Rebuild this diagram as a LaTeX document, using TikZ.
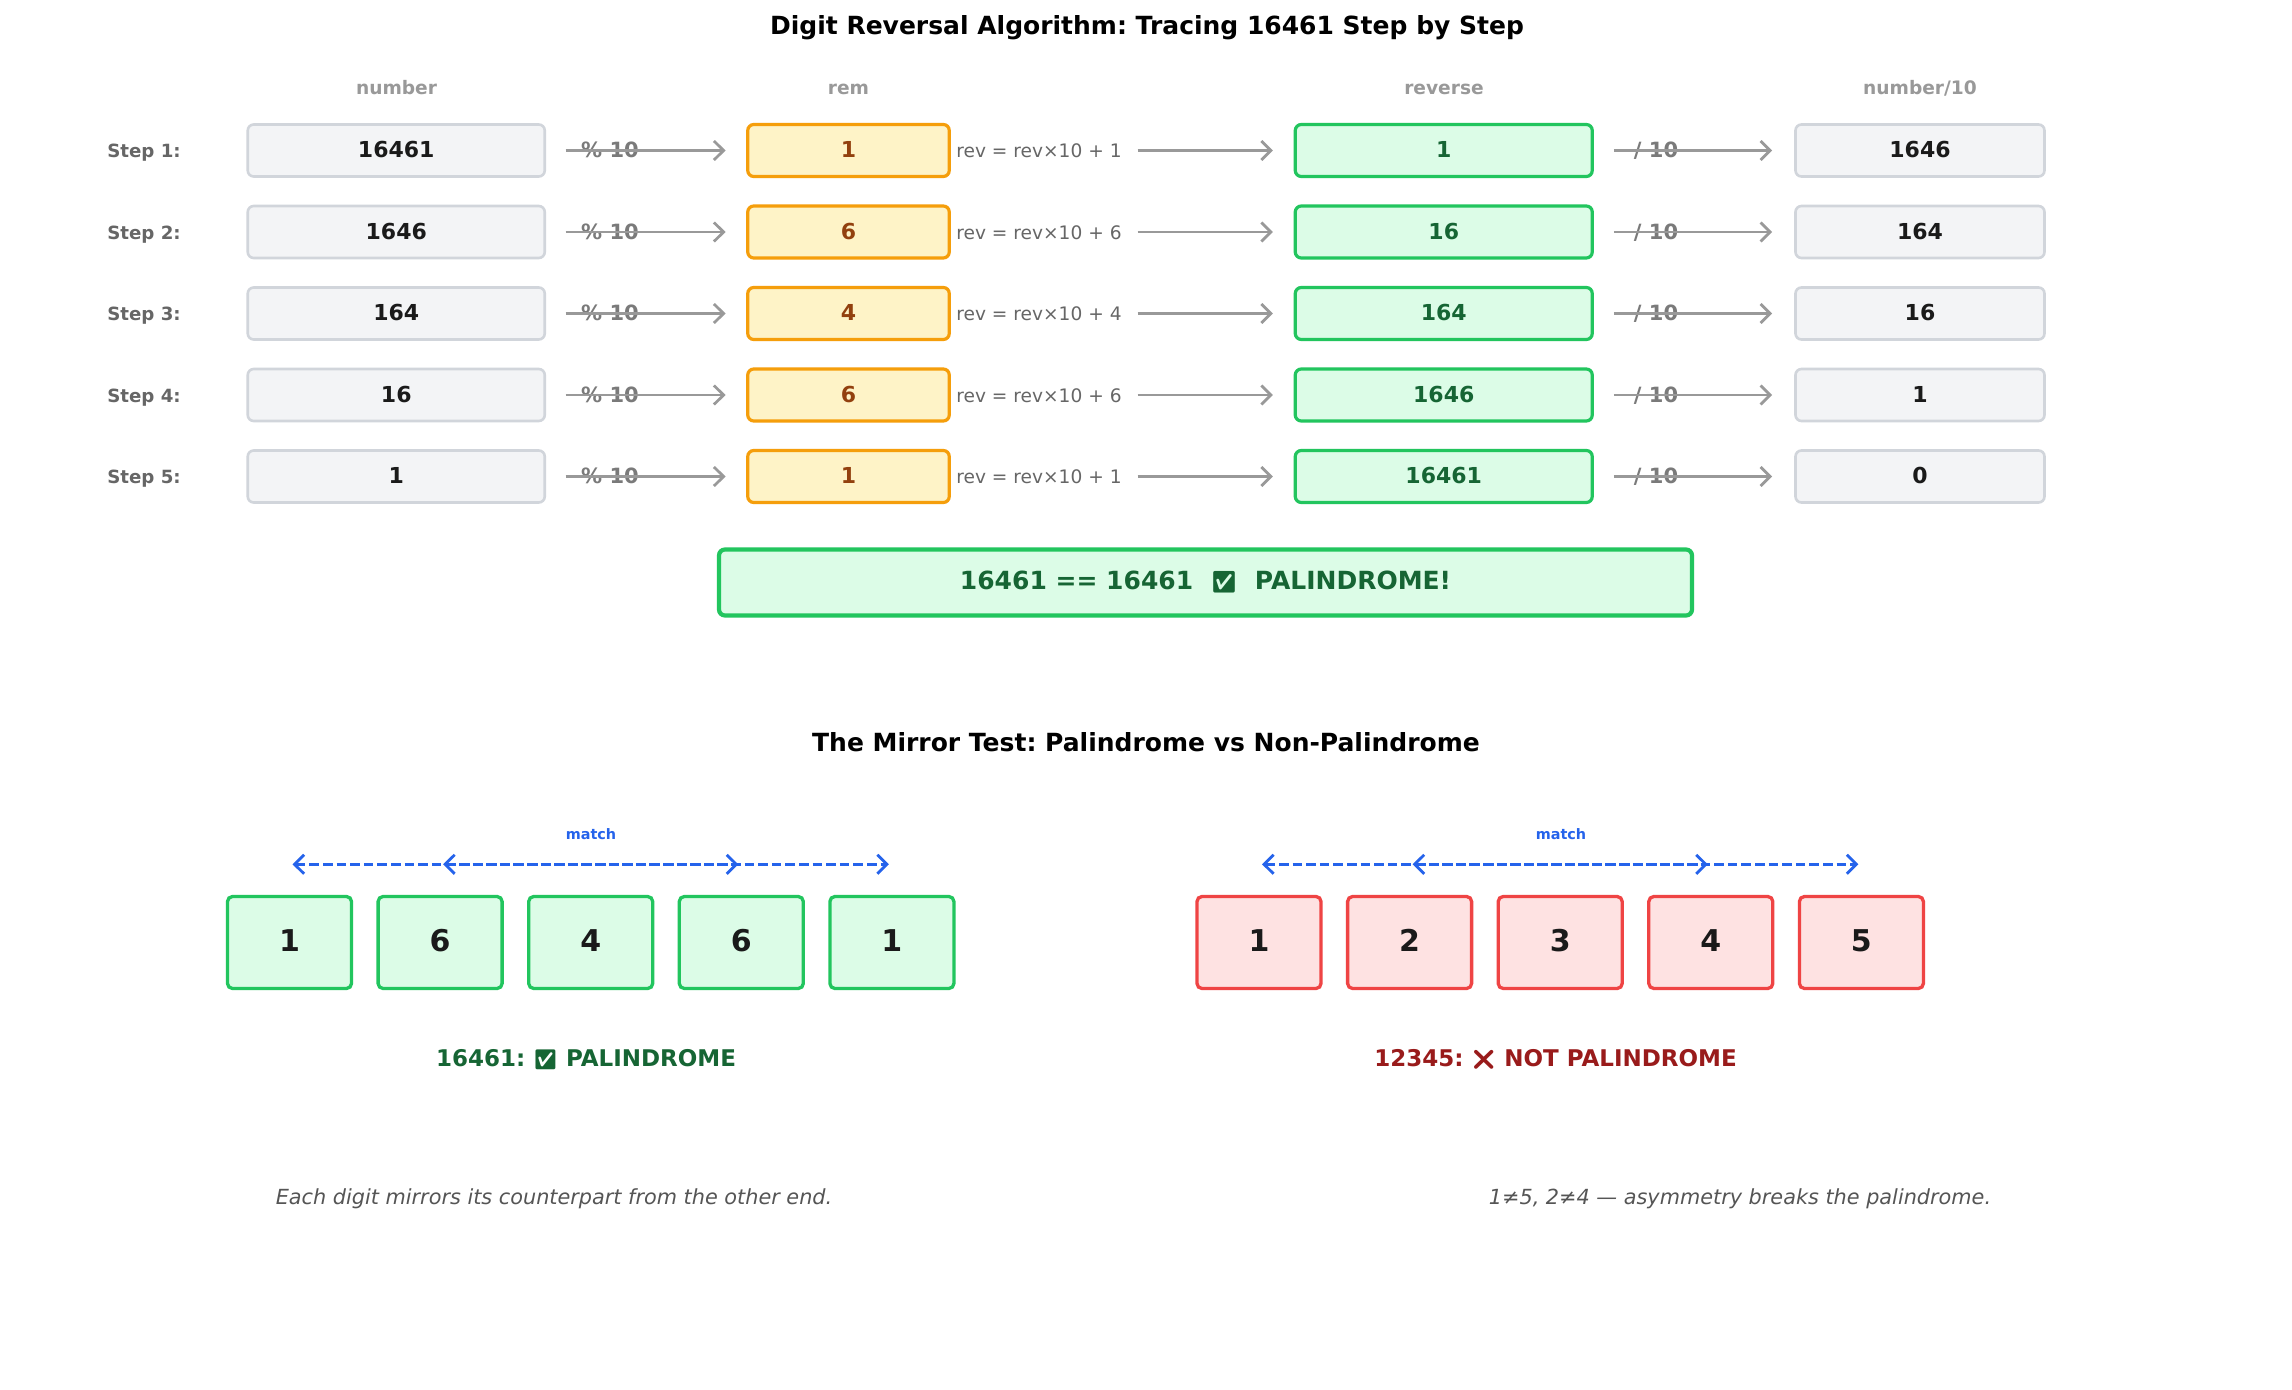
\documentclass[tikz,border=0pt]{standalone}
\usepackage{fontspec}
\setmainfont{DejaVu Sans}
\newfontfamily\emo[Scale=0.85]{Noto Emoji}
\usetikzlibrary{arrows.meta}
\definecolor{gfill}{HTML}{F3F4F6}
\definecolor{gline}{HTML}{D1D5DB}
\definecolor{dark}{HTML}{1A1A1A}
\definecolor{yfill}{HTML}{FEF3C7}
\definecolor{yline}{HTML}{F59E0B}
\definecolor{ytext}{HTML}{92400E}
\definecolor{grfill}{HTML}{DCFCE7}
\definecolor{grline}{HTML}{22C55E}
\definecolor{grtext}{HTML}{166534}
\definecolor{rfill}{HTML}{FEE2E2}
\definecolor{rline}{HTML}{EF4444}
\definecolor{rtext}{HTML}{991B1B}
\definecolor{mblue}{HTML}{2563EB}
\definecolor{agray}{HTML}{999999}
\definecolor{lgray}{HTML}{7A7A7A}
\definecolor{hgray}{HTML}{999999}
\definecolor{sgray}{HTML}{666666}
\definecolor{fgray}{HTML}{555555}
\newcommand\setfs[1]{\fontsize{#1}{#1}\selectfont}
\frenchspacing
\begin{document}
\begin{tikzpicture}[x=0.5pt,y=-0.5pt,
  t/.style={inner sep=0pt, outer sep=0pt, text height=0.73em, text depth=0pt, anchor=center},
  hdr/.style={t, font=\bfseries\setfs{9.3}, text=hgray},
  steplbl/.style={t, font=\bfseries\setfs{9.1}, text=sgray},
  oplbl/.style={t, font=\bfseries\setfs{10.5}, text=lgray},
  formula/.style={t, font=\setfs{9.3}, text=sgray},
  box/.style={draw, rounded corners=3pt, inner sep=0pt, text height=0.73em, text depth=0pt,
    minimum height=26pt, font=\bfseries\setfs{11}},
  numbox/.style={box, fill=gfill, draw=gline, line width=1.3pt, text=dark, minimum width=148.5pt},
  rembox/.style={box, fill=yfill, draw=yline, line width=1.6pt, text=ytext, minimum width=100.75pt},
  revbox/.style={box, fill=grfill, draw=grline, line width=1.6pt, text=grtext, minimum width=148.5pt},
  resbox/.style={box, fill=grfill, draw=grline, line width=2.1pt, text=grtext, minimum width=486.5pt,
    minimum height=33pt, font=\bfseries\setfs{12.5}},
  digbox/.style={box, rounded corners=2.5pt, line width=1.65pt, minimum width=62pt, minimum height=46pt,
    text=dark, font=\bfseries\setfs{15}, text height=0.93em},
  gdig/.style={digbox, fill=grfill, draw=grline},
  rdig/.style={digbox, fill=rfill, draw=rline},
  flow/.style={draw=agray, line width=1.4pt, -{Straight Barb[length=4.8pt,width=9.5pt,line width=1.4pt]}},
  matcharrow/.style={draw=mblue, line width=1.3pt, dash pattern=on 4.8pt off 2pt,
    {Straight Barb[length=4.8pt,width=9.5pt,line width=1.4pt]}-{Straight Barb[length=4.8pt,width=9.5pt,line width=1.4pt]},
    shorten <=1.5pt, shorten >=1.5pt},
  matchlbl/.style={t, font=\bfseries\setfs{7.2}, text=mblue},
  caption/.style={t, font=\bfseries\setfs{11.5}},
  foot/.style={t, font=\itshape\setfs{10.4}, text=fgray},
  ttl/.style={t, font=\bfseries\setfs{12.5}, text=black}
]
\fill[white] (0,0) rectangle (2292,1390);
\useasboundingbox (0,0) rectangle (2292,1390);

\node[ttl] (title) at (1147,27.5) {Digit Reversal Algorithm: Tracing 16461 Step by Step};

\node[hdr] (h1) at (396.5,87) {number};
\node[hdr] (h2) at (848.5,87) {rem};
\node[hdr] (h3) at (1444,87) {reverse};
\node[hdr] (h4) at (1920,87) {number/10};

\foreach \i/\n/\r/\v/\d in {1/16461/1/1/1646, 2/1646/6/16/164, 3/164/4/164/16, 4/16/6/1646/1, 5/1/1/16461/0} {
  \pgfmathsetmacro\yy{150.5+81.5*(\i-1)}
  \node[steplbl] (s\i) at (144,\yy) {Step \i:};
  \node[numbox] (n\i) at (396.25,\yy) {\n};
  \node[rembox] (r\i) at (848.5,\yy) {\r};
  \node[formula] (f\i) at (1039,\yy) {rev = rev×10 + \r};
  \node[revbox] (v\i) at (1443.75,\yy) {\v};
  \node[numbox, minimum width=124.5pt] (d\i) at (1920,\yy) {\d};
  \node[oplbl] (m\i) at (610,\yy) {\% 10};
  \node[oplbl] (q\i) at (1656,\yy) {/ 10};
  \draw[flow, shorten <=9.8pt, shorten >=10.3pt] (n\i) -- (r\i);
  \draw[flow, shorten <=8pt, shorten >=10.4pt] (f\i) -- (v\i);
  \draw[flow, shorten <=10pt, shorten >=11pt] (v\i) -- (d\i);
}

\node[resbox] (res) at (1205.5,582.5) {16461 == 16461\ \ {\emo ✅}\ \ PALINDROME!};

\node[ttl] (title2) at (1146,744) {The Mirror Test: Palindrome vs Non-Palindrome};

% left group
\foreach \k/\g in {1/1,2/6,3/4,4/6,5/1} {
  \pgfmathsetmacro\xx{289.5+150.6*(\k-1)}
  \node[gdig] (L\k) at (\xx,942.5) {\g};
  \coordinate (La\k) at (\xx,864.3);
}
\foreach \k/\g in {1/1,2/2,3/3,4/4,5/5} {
  \pgfmathsetmacro\xx{1259+150.6*(\k-1)}
  \node[rdig] (R\k) at (\xx,942.5) {\g};
  \coordinate (Ra\k) at (\xx,864.3);
}
\draw[matcharrow] (La1) -- (La5);
\draw[matcharrow] (La2) -- (La4);
\draw[matcharrow] (Ra1) -- (Ra5);
\draw[matcharrow] (Ra2) -- (Ra4);
\node[matchlbl] (ml) at (591,831.7) {match};
\node[matchlbl] (mr) at (1561,831.7) {match};

\node[caption, text=grtext] (cl) at (586,1059.5) {16461: {\emo ✅} PALINDROME};
\node[caption, text=rtext] (cr) at (1555.5,1059.5) {12345: {\emo ❌} NOT PALINDROME};

\node[foot] (fl) at (554,1197) {Each digit mirrors its counterpart from the other end.};
\node[foot] (fr) at (1740,1197) {1≠5, 2≠4 — asymmetry breaks the palindrome.};
\end{tikzpicture}
\end{document}
